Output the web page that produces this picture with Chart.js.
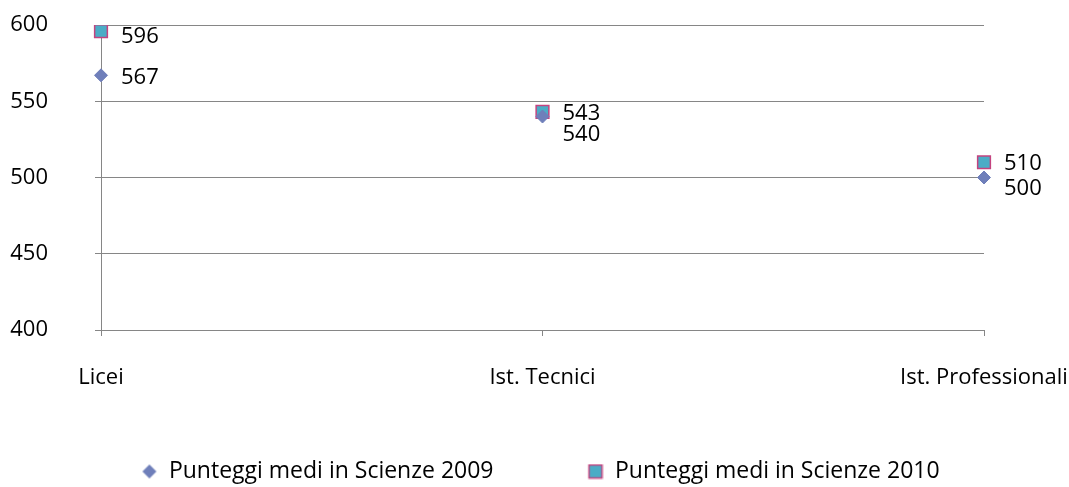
<!DOCTYPE html>
<html><head><meta charset="utf-8">
<script src="https://cdn.jsdelivr.net/npm/chart.js@4/dist/chart.umd.min.js"></script>
<style>html,body{margin:0;padding:0;background:#fff}#wrap{width:1069px;height:487px}</style>
</head><body><div id="wrap"><canvas id="c"></canvas></div>
<script>
const categories = ['Licei', 'Ist. Tecnici', 'Ist. Professionali'];
const series2009 = [567, 540, 500];
const series2010 = [596, 543, 510];
const seriesNames = ['Punteggi medi in Scienze 2009', 'Punteggi medi in Scienze 2010'];
const yTicks = [400, 450, 500, 550, 600];

const FONT = '"Open Sans"';
const FS = 22;
const LFS = 23;
const COL09 = '#6f7fba';
const FILL10 = '#4bacc6', BORD10 = '#c4437f';
// label vertical nudges (px) per dataset/point to avoid overlap, like the original
const labelNudge = [[2, 18, 11], [6, 2, 1]];
const ICON_W = 98;

function icon(kind) {
  const c = document.createElement('canvas');
  c.width = ICON_W; c.height = 16;
  const g = c.getContext('2d');
  const o = ICON_W - 16;
  if (kind === 'diamond') {
    g.fillStyle = COL09;
    g.beginPath(); g.moveTo(o + 8, 1); g.lineTo(o + 15, 8); g.lineTo(o + 8, 15); g.lineTo(o + 1, 8); g.closePath(); g.fill();
  } else {
    g.fillStyle = FILL10; g.fillRect(o + 1.5, 1.5, 13, 13);
    g.strokeStyle = BORD10; g.lineWidth = 1.5; g.strokeRect(o + 1.5, 1.5, 13, 13);
  }
  return c;
}
const icons = [icon('diamond'), icon('square')];

const labelPlugin = {
  id: 'pointLabels',
  afterDatasetsDraw(chart) {
    const ctx = chart.ctx;
    ctx.save();
    ctx.font = FS + 'px ' + FONT;
    ctx.fillStyle = '#000';
    ctx.textAlign = 'left';
    ctx.textBaseline = 'middle';
    chart.data.datasets.forEach((ds, di) => {
      chart.getDatasetMeta(di).data.forEach((pt, i) => {
        ctx.fillText(String(ds.data[i]), pt.x + 20, pt.y + labelNudge[di][i]);
      });
    });
    ctx.restore();
  }
};

new Chart(document.getElementById('c'), {
  type: 'line',
  data: {
    labels: categories,
    datasets: [
      { label: seriesNames[0], data: series2009, showLine: false, pointStyle: 'rectRot',
        pointRadius: 6.5, pointHoverRadius: 6.5, backgroundColor: COL09, borderColor: COL09, pointBorderWidth: 1 },
      { label: seriesNames[1], data: series2010, showLine: false, pointStyle: 'rect',
        pointRadius: 9, pointHoverRadius: 9, backgroundColor: FILL10, borderColor: BORD10, pointBorderWidth: 1.5 }
    ]
  },
  options: {
    responsive: true, maintainAspectRatio: false, animation: false,
    layout: { padding: { top: 25, right: 70, left: 0, bottom: -6 } },
    plugins: {
      tooltip: { enabled: false },
      legend: {
        position: 'bottom', align: 'center',
        labels: { usePointStyle: true, pointStyleWidth: ICON_W, font: { family: FONT, size: LFS }, color: '#000', padding: 12, boxHeight: 16,
          generateLabels(chart) {
            return chart.data.datasets.map((ds, i) => ({
              text: ds.label, fillStyle: ds.backgroundColor, strokeStyle: ds.borderColor, lineWidth: 0,
              pointStyle: icons[i], datasetIndex: i, hidden: false
            }));
          }
        }
      }
    },
    scales: {
      x: {
        offset: false,
        afterFit(s) {
          s.paddingLeft = 0; s.paddingRight = 0;
          const lh = s.chart.legend ? s.chart.legend.height : 0;
          s.height = Math.max(10, s.chart.height - 330 - lh + 6);
        },
        grid: { drawOnChartArea: false, drawTicks: true, tickLength: 6, color: '#868686' },
        border: { color: '#868686' },
        ticks: { font: { family: FONT, size: FS }, color: '#000', padding: 29, maxRotation: 0, autoSkip: false }
      },
      y: {
        min: 400, max: 600,
        afterFit(s) { s.width = 101; s.paddingTop = 0; s.paddingBottom = 0; },
        afterBuildTicks(s) { s.ticks = yTicks.map(v => ({ value: v })); },
        grid: { color: '#868686', tickLength: 6 },
        border: { color: '#868686' },
        ticks: { font: { family: FONT, size: FS }, color: '#000', padding: 47 }
      },
      yPad: {
        position: 'right', display: true,
        afterFit(s) { s.width = 15; s.paddingTop = 0; s.paddingBottom = 0; },
        grid: { display: false, drawTicks: false }, border: { display: false },
        ticks: { display: false }
      }
    }
  },
  plugins: [labelPlugin]
});
</script></body></html>
